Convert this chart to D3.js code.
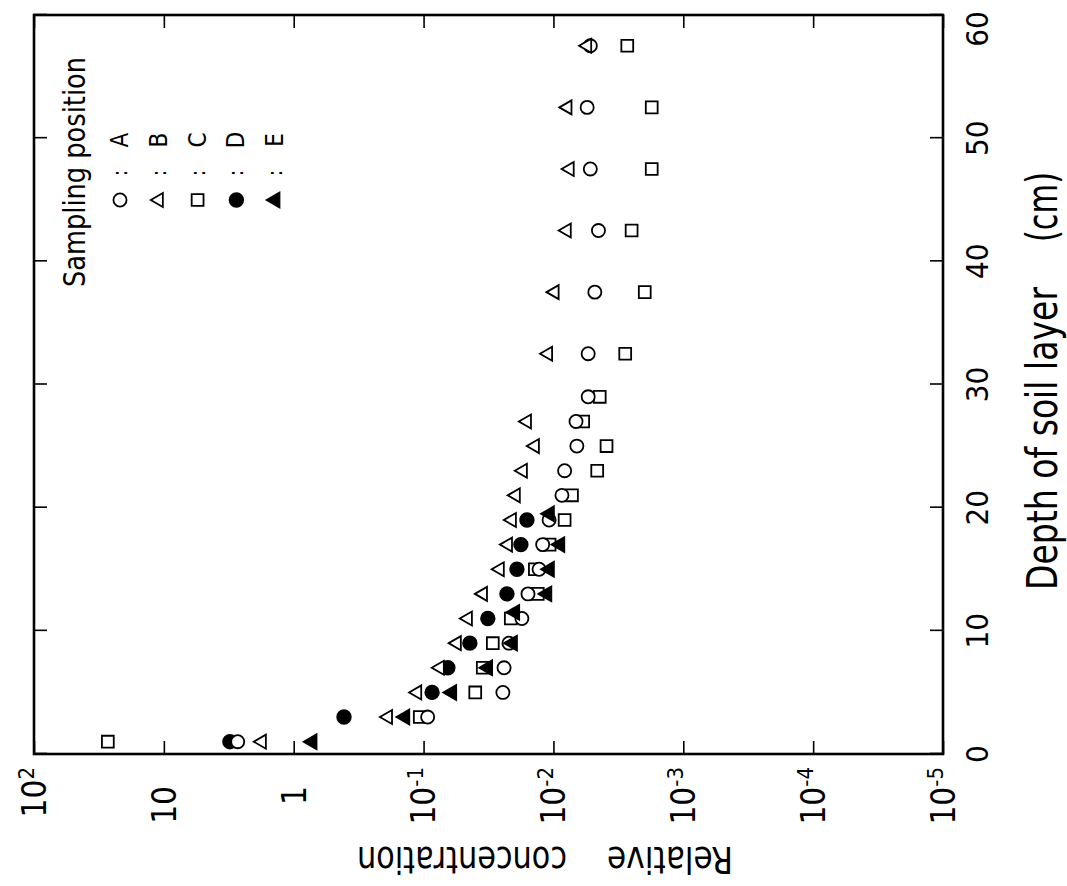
<!DOCTYPE html>
<html>
<head>
<meta charset="utf-8">
<script src="https://cdn.jsdelivr.net/npm/d3@7"></script>
<style>
  body { margin: 0; background: #fff; }
  svg { display: block; }
  text { font-family: "Liberation Sans Narrow", "DejaVu Sans Condensed", "Liberation Sans", sans-serif; fill: #000; }
</style>
</head>
<body>
<div id="chart"></div>
<script>
// depth of each layer mid-point (cm) and relative concentration, per sampling position
var depthA = [1, 3, 5, 7, 9, 11, 13, 15, 17, 19, 21, 23, 25, 27, 29, 32.5, 37.5, 42.5, 47.5, 52.5, 57.5];
var concA  = [2.7, 0.093, 0.0245, 0.024, 0.022, 0.0175, 0.0157, 0.0129, 0.0121, 0.0108, 0.0086, 0.0082, 0.0066, 0.0067, 0.0054, 0.0054, 0.0048, 0.0045, 0.0052, 0.0055, 0.0052];

var depthB = [1, 3, 5, 7, 9, 11, 13, 15, 17, 19, 21, 23, 25, 27, 32.5, 37.5, 42.5, 47.5, 52.5, 57.5];
var concB  = [1.76, 0.188, 0.112, 0.075, 0.0555, 0.0456, 0.0349, 0.0259, 0.0224, 0.0209, 0.0195, 0.0172, 0.0139, 0.016, 0.011, 0.0098, 0.0079, 0.0075, 0.0078, 0.0055];

var depthC = [1, 3, 5, 7, 9, 11, 13, 15, 17, 19, 21, 23, 25, 27, 29, 32.5, 37.5, 42.5, 47.5, 52.5, 57.5];
var concC  = [27, 0.107, 0.040, 0.035, 0.0293, 0.0213, 0.0132, 0.0139, 0.0107, 0.0082, 0.0072, 0.0046, 0.0039, 0.0059, 0.0044, 0.0028, 0.00198, 0.0025, 0.00175, 0.00175, 0.0027];

var depthD = [1, 3, 5, 7, 9, 11, 13, 15, 17, 19];
var concD  = [3.1, 0.41, 0.086, 0.065, 0.044, 0.032, 0.0228, 0.0191, 0.0178, 0.016];

var depthE = [1, 3, 5, 7, 9, 11.5, 13, 15, 17, 19.5];
var concE  = [0.72, 0.139, 0.0605, 0.032, 0.0206, 0.0198, 0.0112, 0.0107, 0.0089, 0.0107];

var depthTicks = [0, 10, 20, 30, 40, 50, 60];
var concTicks = [1e2, 1e1, 1, 1e-1, 1e-2, 1e-3, 1e-4, 1e-5];
var concBase = ["10", "10", "1", "10", "10", "10", "10", "10"];
var concExp  = ["2", "", "", "-1", "-2", "-3", "-4", "-5"];

var legendKeys = ["A", "B", "C", "D", "E"];

// the figure is drawn upright, then the whole plot is turned 90 degrees to the left
var width = 739;   // depth axis length
var height = 909;  // concentration axis length

var svg = d3.select("#chart")
  .append("svg")
  .attr("width", 1067)
  .attr("height", 886);

svg.append("rect").attr("width", 1067).attr("height", 886).attr("fill", "#fff");

var g = svg.append("g")
  .attr("transform", "translate(34,754) rotate(-90)");

var x = d3.scaleLinear().domain([0, 60]).range([0, width]);
var y = d3.scaleLog().domain([1e2, 1e-5]).range([0, height]);

// inward ticks on all four sides
function tidy(sel) {
  sel.select(".domain").remove();
  sel.selectAll(".tick line").attr("stroke", "#000").attr("stroke-width", 1.6);
  sel.selectAll(".tick text").remove();
}
g.append("g").attr("transform", "translate(0," + height + ")")
  .call(d3.axisBottom(x).tickValues(depthTicks).tickSizeInner(-13).tickSizeOuter(0))
  .call(tidy);
g.append("g")
  .call(d3.axisTop(x).tickValues(depthTicks).tickSizeInner(-13).tickSizeOuter(0))
  .call(tidy);
g.append("g")
  .call(d3.axisLeft(y).tickValues(concTicks).tickSizeInner(-13).tickSizeOuter(0))
  .call(tidy);
g.append("g").attr("transform", "translate(" + width + ",0)")
  .call(d3.axisRight(y).tickValues(concTicks).tickSizeInner(-13).tickSizeOuter(0))
  .call(tidy);

g.append("rect")
  .attr("width", width)
  .attr("height", height)
  .attr("fill", "none")
  .attr("stroke", "#000")
  .attr("stroke-width", 2.6);

// depth tick labels (the last one is pulled inside the page, as in the original)
g.selectAll(".dlab")
  .data(depthTicks)
  .enter()
  .append("text")
  .attr("x", function (d) { return Math.min(x(d), width - 14); })
  .attr("y", height + 34)
  .attr("dy", "0.36em")
  .attr("text-anchor", "middle")
  .style("font-size", "31px")
  .text(function (d) { return d; });

// concentration tick labels (10 with exponent)
var clab = g.selectAll(".clab")
  .data(concTicks)
  .enter()
  .append("text")
  .attr("x", function (d, i) { return concExp[i] ? -13 : -32; })
  .attr("y", function (d) { return y(d); })
  .attr("dy", "0.36em")
  .attr("text-anchor", "end")
  .style("font-size", "33px");
clab.append("tspan").text(function (d, i) { return concBase[i]; });
clab.append("tspan")
  .attr("dy", "-0.55em")
  .style("font-size", "22px")
  .text(function (d, i) { return concExp[i]; });

// axis titles
g.append("text")
  .attr("x", 164)
  .attr("y", 1023)
  .attr("textLength", 303)
  .attr("lengthAdjust", "spacingAndGlyphs")
  .style("font-size", "42px")
  .text("Depth of soil layer");
g.append("text")
  .attr("x", 512)
  .attr("y", 1023)
  .attr("textLength", 70)
  .attr("lengthAdjust", "spacingAndGlyphs")
  .style("font-size", "42px")
  .text("(cm)");

g.append("text")
  .attr("transform", "translate(-93,699) rotate(-90)")
  .attr("textLength", 126)
  .attr("lengthAdjust", "spacingAndGlyphs")
  .style("font-size", "38px")
  .text("Relative");
g.append("text")
  .attr("transform", "translate(-93,533) rotate(-90)")
  .attr("textLength", 210)
  .attr("lengthAdjust", "spacingAndGlyphs")
  .style("font-size", "38px")
  .text("concentration");

// markers
var shapes = {
  A: { type: d3.symbolCircle, size: 135, fill: "#fff" },
  B: { type: d3.symbolTriangle, size: 85, fill: "#fff" },
  C: { type: d3.symbolSquare, size: 140, fill: "#fff" },
  D: { type: d3.symbolCircle, size: 145, fill: "#000" },
  E: { type: d3.symbolTriangle, size: 95, fill: "#000" }
};
var series = [
  { key: "D", depth: depthD, conc: concD },
  { key: "C", depth: depthC, conc: concC },
  { key: "A", depth: depthA, conc: concA },
  { key: "B", depth: depthB, conc: concB },
  { key: "E", depth: depthE, conc: concE }
];

series.forEach(function (s) {
  var sh = shapes[s.key];
  var pts = s.depth.map(function (d, i) { return [d, s.conc[i]]; });
  g.selectAll(".pt" + s.key)
    .data(pts)
    .enter()
    .append("path")
    .attr("d", d3.symbol().type(sh.type).size(sh.size))
    .attr("transform", function (p) { return "translate(" + x(p[0]) + "," + y(p[1]) + ")"; })
    .attr("fill", sh.fill)
    .attr("stroke", "#000")
    .attr("stroke-width", 1.8);
});

// legend
g.append("text")
  .attr("x", 467)
  .attr("y", 51)
  .attr("textLength", 230)
  .attr("lengthAdjust", "spacingAndGlyphs")
  .style("font-size", "30px")
  .text("Sampling position");

var legend = g.selectAll(".legend")
  .data(legendKeys)
  .enter()
  .append("g")
  .attr("class", "legend")
  .attr("transform", function (d, i) { return "translate(0," + (86 + i * 38.8) + ")"; });

legend.append("path")
  .attr("d", function (d) { return d3.symbol().type(shapes[d].type).size(shapes[d].size)(); })
  .attr("transform", "translate(554,0)")
  .attr("fill", function (d) { return shapes[d].fill; })
  .attr("stroke", "#000")
  .attr("stroke-width", 1.8);
legend.append("text")
  .attr("x", 581)
  .attr("y", 7)
  .attr("text-anchor", "middle")
  .style("font-size", "22px")
  .text(":");
legend.append("text")
  .attr("x", 614)
  .attr("y", 8)
  .attr("text-anchor", "middle")
  .style("font-size", "24px")
  .text(function (d) { return d; });
</script>
</body>
</html>
